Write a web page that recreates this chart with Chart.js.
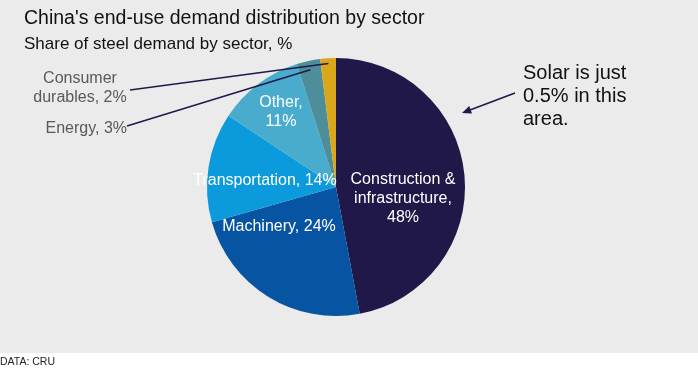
<!DOCTYPE html>
<html>
<head>
<meta charset="utf-8">
<script src="https://cdn.jsdelivr.net/npm/chart.js@4.4.1/dist/chart.umd.min.js"></script>
<style>
    html, body { margin: 0; padding: 0; background: #ffffff; }
    #wrap { position: relative; width: 698px; height: 369px; }
</style>
</head>
<body>
<div id="wrap"><canvas id="chartRef" width="698" height="369"></canvas></div>
<script>
const sectors = ['Construction & infrastructure', 'Machinery', 'Transportation', 'Other', 'Energy', 'Consumer durables'];
const shares = [48, 24, 14, 11, 3, 2];
const sectorColors = ['#1f1848', '#0754a2', '#0b9bdd', '#4aaccd', '#4d8e9a', '#d9a61c'];

// text drawn inside the slices, offsets from the pie centre
const insideLabels = [
    { lines: ['Construction &', 'infrastructure,', '48%'], dx: 67, dy: -7 },
    { lines: ['Machinery, 24%'], dx: -57, dy: 40 },
    { lines: ['Transportation, 14%'], dx: -71, dy: -6 },
    { lines: ['Other,', '11%'], dx: -55, dy: -84 },
];

const FONT = '"Liberation Sans", Arial, "Helvetica", sans-serif';

const pageArt = {
    id: 'pageArt',
    beforeDraw(chart) {
        const ctx = chart.ctx;
        ctx.save();
        ctx.fillStyle = '#ffffff';
        ctx.fillRect(0, 0, chart.width, chart.height);
        ctx.fillStyle = '#ebebeb';
        ctx.fillRect(0, 0, chart.width, 353);
        ctx.restore();
    },
    afterDatasetsDraw(chart) {
        const ctx = chart.ctx;
        const arcs = chart.getDatasetMeta(0).data;
        const cx = arcs[0].x, cy = arcs[0].y;
        ctx.save();

        // titles
        ctx.textBaseline = 'alphabetic';
        ctx.textAlign = 'left';
        ctx.fillStyle = '#111111';
        ctx.font = '19.5px ' + FONT;
        ctx.fillText("China's end-use demand distribution by sector", 24, 24);
        ctx.font = '17px ' + FONT;
        ctx.fillText('Share of steel demand by sector, %', 24, 49);

        // labels inside slices
        ctx.fillStyle = '#ffffff';
        ctx.font = '16px ' + FONT;
        ctx.textAlign = 'center';
        ctx.textBaseline = 'middle';
        insideLabels.forEach(lab => {
            lab.lines.forEach((t, k) => {
                ctx.fillText(t, cx + lab.dx, cy + lab.dy + k * 19);
            });
        });

        // outside labels for the two small slices
        ctx.fillStyle = '#595959';
        ctx.fillText('Consumer', 80, 79);
        ctx.fillText('durables, 2%', 80, 98);
        ctx.textAlign = 'right';
        ctx.fillText('Energy, 3%', 127, 129);

        // leader lines to the small slices
        const pointOn = (arc, f) => {
            const p = arc.getProps(['startAngle', 'endAngle', 'outerRadius']);
            const a = (p.startAngle + p.endAngle) / 2;
            return [arc.x + Math.cos(a) * p.outerRadius * f, arc.y + Math.sin(a) * p.outerRadius * f];
        };
        ctx.strokeStyle = '#1f1848';
        ctx.lineWidth = 1.5;
        const durEnd = pointOn(arcs[5], 0.96);
        ctx.beginPath();
        ctx.moveTo(130, 90);
        ctx.lineTo(durEnd[0], durEnd[1]);
        ctx.stroke();
        const enEnd = pointOn(arcs[4], 0.93);
        ctx.beginPath();
        ctx.moveTo(127, 126);
        ctx.lineTo(enEnd[0], enEnd[1]);
        ctx.stroke();

        // solar note with arrow
        ctx.fillStyle = '#111111';
        ctx.font = '20px ' + FONT;
        ctx.textAlign = 'left';
        ctx.textBaseline = 'middle';
        ['Solar is just', '0.5% in this', 'area.'].forEach((t, k) => {
            ctx.fillText(t, 523, 73 + k * 23);
        });
        const x0 = 515, y0 = 93, x1 = 462, y1 = 113;
        ctx.beginPath();
        ctx.moveTo(x0, y0);
        ctx.lineTo(x1 + 6, y1 - 2.3);
        ctx.stroke();
        const ang = Math.atan2(y1 - y0, x1 - x0);
        ctx.fillStyle = '#1f1848';
        ctx.beginPath();
        ctx.moveTo(x1, y1);
        ctx.lineTo(x1 - 10 * Math.cos(ang - 0.4), y1 - 10 * Math.sin(ang - 0.4));
        ctx.lineTo(x1 - 10 * Math.cos(ang + 0.4), y1 - 10 * Math.sin(ang + 0.4));
        ctx.closePath();
        ctx.fill();

        // source
        ctx.fillStyle = '#222222';
        ctx.font = '10.5px ' + FONT;
        ctx.textBaseline = 'alphabetic';
        ctx.fillText('DATA: CRU', 0, 365);
        ctx.restore();
    }
};

const ctx = document.getElementById('chartRef').getContext('2d');
new Chart(ctx, {
    type: 'pie',
    data: {
        labels: sectors,
        datasets: [{
            data: shares,
            backgroundColor: sectorColors,
            borderWidth: 0
        }]
    },
    options: {
        responsive: false,
        animation: false,
        devicePixelRatio: 1,
        layout: {
            padding: { left: 207, right: 233, top: 58, bottom: 53 }
        },
        plugins: {
            legend: { display: false },
            tooltip: { enabled: false }
        }
    },
    plugins: [pageArt]
});
</script>
</body>
</html>
